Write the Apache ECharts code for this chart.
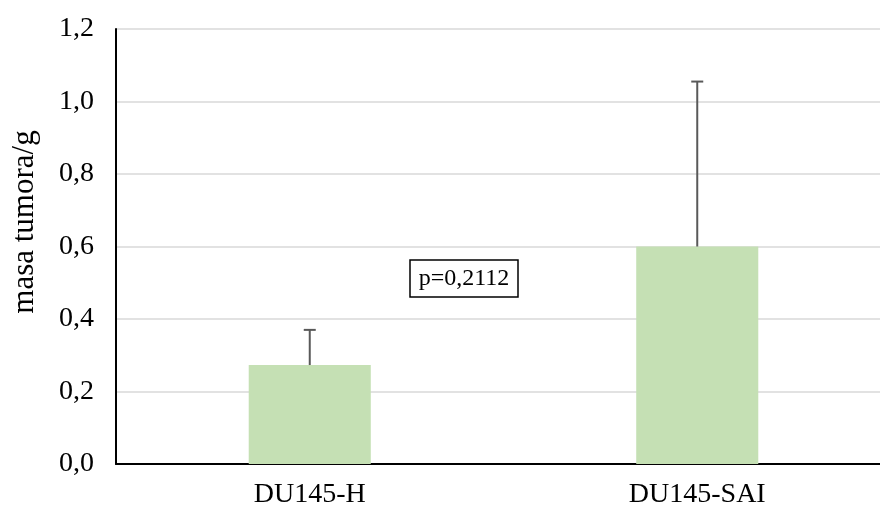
<!DOCTYPE html>
<html>
<head>
<meta charset="utf-8">
<script src="https://cdn.jsdelivr.net/npm/echarts@6/dist/echarts.min.js"></script>
<style>html,body{margin:0;padding:0;background:#fff}#c{width:880px;height:509px}</style>
</head>
<body>
<div id="c"></div>
<script>
const categories = ['DU145-H', 'DU145-SAI'];
const means = [0.273, 0.600];
const errTop = [0.370, 1.055];
const yTicks = [0, 0.2, 0.4, 0.6, 0.8, 1.0, 1.2];
const yName = 'masa tumora/g';
const pLabel = 'p=0,2112';

const serif = '"Liberation Serif", "Times New Roman", serif';
const chart = echarts.init(document.getElementById('c'));
chart.setOption({
  animation: false,
  grid: { left: 116, width: 775, top: 29, bottom: 45, containLabel: false, outerBoundsMode: 'none' },
  xAxis: {
    type: 'category',
    data: categories,
    axisLine: { lineStyle: { color: '#000', width: 2 } },
    axisTick: { show: false },
    axisLabel: { color: '#000', fontFamily: serif, fontSize: 28, margin: 17 }
  },
  yAxis: {
    type: 'value',
    min: yTicks[0],
    max: yTicks[yTicks.length - 1],
    interval: 0.2,
    axisLine: { show: true, lineStyle: { color: '#000', width: 2 } },
    axisTick: { show: false },
    splitLine: { lineStyle: { color: '#d9d9d9', width: 1.5 } },
    axisLabel: {
      color: '#000', fontFamily: serif, fontSize: 28, margin: 22,
      formatter: v => v.toFixed(1).replace('.', ',')
    }
  },
  series: [
    {
      type: 'bar',
      data: means,
      barWidth: '31.5%',
      itemStyle: { color: '#c5e0b4' },
      z: 2
    },
    {
      type: 'custom',
      data: categories.map((c, i) => [i, means[i], errTop[i]]),
      z: 3,
      renderItem: function (params, api) {
        const x = api.value(0);
        const lo = api.coord([x, api.value(1)]);
        const hi = api.coord([x, api.value(2)]);
        const cap = 6;
        const style = { stroke: '#595959', lineWidth: 2 };
        return {
          type: 'group',
          children: [
            { type: 'line', shape: { x1: lo[0], y1: lo[1], x2: hi[0], y2: hi[1] }, style: style },
            { type: 'line', shape: { x1: hi[0] - cap, y1: hi[1], x2: hi[0] + cap, y2: hi[1] }, style: style }
          ]
        };
      }
    }
  ],
  graphic: [
    {
      type: 'text',
      x: 25, y: 222,
      rotation: Math.PI / 2,
      style: {
        text: yName, fill: '#000', fontFamily: serif, fontSize: 31,
        align: 'center', verticalAlign: 'middle'
      }
    },
    {
      type: 'rect',
      shape: { x: 410, y: 260, width: 108, height: 37 },
      style: { fill: '#fff', stroke: '#000', lineWidth: 1.5 }
    },
    {
      type: 'text',
      x: 464, y: 279,
      style: {
        text: pLabel, fill: '#000', fontFamily: serif, fontSize: 24,
        align: 'center', verticalAlign: 'middle'
      }
    }
  ]
});
</script>
</body>
</html>
